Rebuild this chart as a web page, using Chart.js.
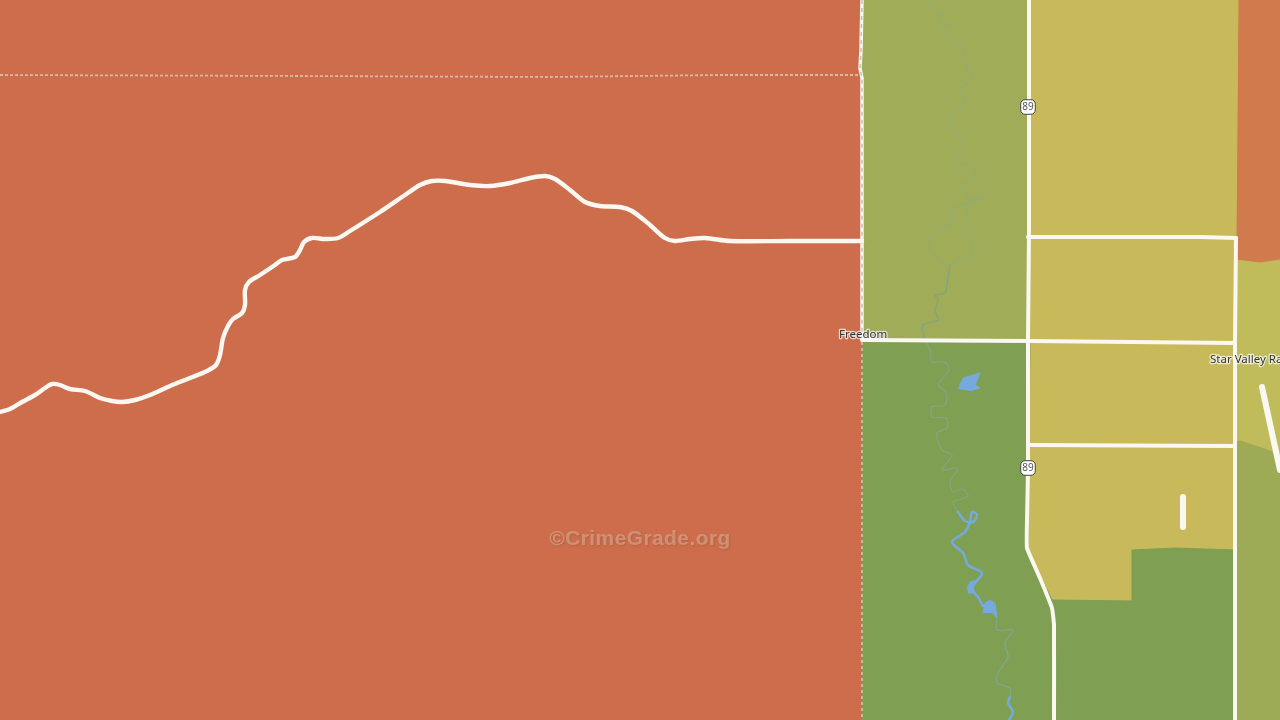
<!DOCTYPE html>
<html><head><meta charset="utf-8">
<style>html,body{margin:0;padding:0;background:#CE6D4C;overflow:hidden}canvas{display:block}</style>
<script src="https://cdn.jsdelivr.net/npm/chart.js@4/dist/chart.umd.min.js"></script>
</head><body><canvas id="c" width="1280" height="720" style="width:1280px;height:720px"></canvas>
<script>
const zoneRed=[[0,0],[1280,0],[1280,720],[0,720]];
const zoneOrange=[[1238,0],[1280,0],[1280,264],[1260,263],[1236,260]];
const zoneOlive=[[862,0],[1030,0],[1030,341],[862,341]];
const zoneYellow=[[1029,0],[1238,0],[1236,240],[1236,550],[1175,548],[1132,550],[1132,601],[1052,600],[1040,575],[1028,548]];
const zoneGreen=[[862,341],[1030,341],[1028,548],[1040,575],[1052,600],[1132,601],[1132,550],[1175,548],[1236,550],[1236,720],[862,720]];
const zoneLime=[[1236,260],[1260,263],[1280,260],[1280,455],[1262,448],[1240,441],[1236,442]];
const zoneOliveEast=[[1236,442],[1240,441],[1262,448],[1280,455],[1280,720],[1236,720]];

const riverNorth=[[932,0],[930,5],[934,12],[941,15],[943,11],[939,18],[942,26],[950,25],[951,32],[947,42],[953,44],[960,43],[965,55],[966,65],[970,72],[972,76],[968,83],[960,89],[965,96],[958,110],[950,115],[948,122],[955,133],[964,143],[962,150],[955,160],[957,165],[972,164],[973,182],[963,182],[962,188],[970,200],[978,197],[983,197],[972,202],[953,208],[952,222],[937,232],[929,247],[937,258],[950,265],[960,258],[970,260],[972,243],[967,233],[972,227],[965,217],[972,202]];
const riverMid=[[950,265],[947,283],[945,293],[935,295],[938,300],[935,310],[938,320],[923,325],[924,337],[930,350],[932,362],[945,362],[949,370],[938,385],[946,392],[945,405],[932,407],[932,417],[946,418],[947,428],[937,433],[942,450],[952,455],[942,470],[958,468],[950,482],[953,492],[962,489],[968,495],[962,499],[953,502],[958,512]];
const riverBlue=[[958,512],[965,521],[973,522],[977,515],[972,512],[970,522],[965,532],[952,542],[963,553],[968,565],[982,573],[975,583],[972,590],[978,597],[983,606]];
const riverSouthThin=[[997,618],[997,630],[1013,630],[1005,643],[1008,657],[998,673],[997,683],[1010,688],[1010,697]];
const riverSouthBlue=[[1010,697],[1008,703],[1013,712],[1009,720]];
const lakeNorth=[[958,389],[963,378],[980,373],[975,385],[980,388],[970,391]];
const lakeMid=[[967,588],[970,582],[975,580],[973,587],[975,593],[968,593]];
const lakeSouth=[[983,613],[985,603],[990,600],[995,603],[997,618],[993,613]];

const mainRoad=[[0,412],[10,409],[22,402],[35,395],[45,388],[52,384],[60,385],[70,389],[85,391],[100,398],[112,401],[122,402],[135,400],[150,395],[170,386],[190,378],[207,371],[216,365],[220,355],[223,338],[228,326],[233,319],[242,313],[245,305],[245,290],[249,282],[260,275],[275,265],[282,260],[295,257],[300,250],[304,242],[312,238],[325,239],[338,238],[350,231],[380,212],[405,195],[420,185],[432,181],[445,181],[470,185],[490,186],[510,183],[530,178],[545,176],[555,179],[570,190],[585,202],[600,206],[620,207],[632,211],[650,225],[665,238],[675,241],[690,239],[705,238],[730,241],[790,241],[862,241]];
const highway89=[[1029,0],[1029,230],[1028,340],[1028,470],[1027,520],[1027,548],[1040,578],[1052,608],[1054,625],[1054,720]];
const roadA=[[1028,237],[1200,237],[1236,238]];
const roadEast=[[1236,238],[1235,340],[1235,445],[1235,720]];
const roadB=[[862,340],[1028,341],[1235,343]];
const roadC=[[1028,445],[1235,446]];
const roadShortA=[[1262,387],[1280,470]];
const roadShortB=[[1183,497],[1183,527]];
const borderWhite=[[862,0],[861,50],[860,68],[862,78],[862,340]];
const borderDashNorth=[[862,0],[861,50],[860,68],[862,78],[862,340]];
const borderDashSouth=[[862,342],[862,720]];
const stateLine=[[0,75],[300,76],[550,77],[720,75],[860,75]];

const shieldPoints=[[1028,107],[1028,468]];
const shieldLabel='89';
const placeNames=['Freedom','Star Valley Ranch'];
const placeAnchors=[[839,334.5],[1210,359.5]];
const watermark='©CrimeGrade.org';
const watermarkAnchor=[640,539];

function zone(pts,color){return {data:pts.map(p=>({x:p[0],y:p[1]})),showLine:true,fill:'shape',backgroundColor:color,borderColor:color,borderWidth:1,pointRadius:0,tension:0};}
function path(pts,color,width,extra){return Object.assign({data:pts.map(p=>({x:p[0],y:p[1]})),showLine:true,fill:false,borderColor:color,borderWidth:width,pointRadius:0,tension:0.3,borderCapStyle:'round',borderJoinStyle:'round'},extra||{});}
const ROAD='#FBF8F1';
const layers=[
 zone(zoneRed,'#CE6D4C'),zone(zoneOrange,'#D07A4E'),zone(zoneOlive,'#A0AC58'),zone(zoneLime,'#C0BC5C'),zone(zoneOliveEast,'#9EAB56'),zone(zoneYellow,'#C8BA5A'),zone(zoneGreen,'#7F9F52'),
 path(riverNorth,'#93AC70',1.4),path(riverMid,'#82A67C',1.4),path(riverBlue,'#76A9DC',2.6),path(riverSouthThin,'#7FA98F',1.2),path(riverSouthBlue,'#76A9DC',2.6),
 zone(lakeNorth,'#76A9DC'),zone(lakeMid,'#76A9DC'),zone(lakeSouth,'#76A9DC'),
 path(stateLine,'#D9B8A8',1.8,{borderDash:[3,2],tension:0,borderCapStyle:'butt'}),
 path(borderDashSouth,'#C9B7A0',2,{borderDash:[3,3],tension:0,borderCapStyle:'butt'}),
 path(borderWhite,ROAD,3.5,{tension:0}),
 path(borderDashNorth,'#C4C0B4',1.5,{borderDash:[4,4],tension:0,borderCapStyle:'butt'}),
 path(mainRoad,ROAD,4.4),
 path(highway89,ROAD,4,{tension:0.1}),path(roadA,ROAD,4,{tension:0}),path(roadEast,ROAD,4,{tension:0}),path(roadB,ROAD,4,{tension:0}),path(roadC,ROAD,4,{tension:0}),
 path(roadShortA,ROAD,6,{tension:0}),path(roadShortB,ROAD,6,{tension:0}),
 {data:shieldPoints.map(p=>({x:p[0],y:p[1]})),showLine:false,pointStyle:'rectRounded',pointRadius:8.5,backgroundColor:'#FFFFFF',borderColor:'#444444',borderWidth:1}
];
const textPlugin={id:'mapText',afterDatasetsDraw(chart){
 const c=chart.ctx,sx=chart.scales.x,sy=chart.scales.y;
 c.save();
 c.textBaseline='middle';
 c.textAlign='center';c.font='10px "Noto Sans"';c.fillStyle='#555555';
 shieldPoints.forEach(p=>c.fillText(shieldLabel,sx.getPixelForValue(p[0]),sy.getPixelForValue(p[1])));
 c.textAlign='left';c.font='11.5px "Noto Sans"';c.lineJoin='round';
 placeNames.forEach((n,i)=>{const x=sx.getPixelForValue(placeAnchors[i][0]),y=sy.getPixelForValue(placeAnchors[i][1]);
  c.strokeStyle='rgba(255,255,255,0.7)';c.lineWidth=2.5;c.strokeText(n,x,y);c.fillStyle='#333333';c.fillText(n,x,y);});
 c.textAlign='center';c.font='bold 21px "Liberation Sans"';c.letterSpacing='0.4px';
 c.shadowColor='rgba(90,60,40,0.55)';c.shadowBlur=2;c.shadowOffsetX=1;c.shadowOffsetY=1;
 c.fillStyle='rgba(235,215,195,0.38)';
 c.fillText(watermark,sx.getPixelForValue(watermarkAnchor[0]),sy.getPixelForValue(watermarkAnchor[1]));
 c.restore();
}};
new Chart(document.getElementById('c'),{type:'scatter',data:{datasets:layers.slice().reverse()},plugins:[textPlugin],
 options:{responsive:false,animation:false,devicePixelRatio:1,layout:{padding:0,autoPadding:false},
  plugins:{legend:{display:false},tooltip:{enabled:false},title:{display:false}},
  scales:{x:{type:'linear',display:false,min:0,max:1280},y:{type:'linear',display:false,min:0,max:720,reverse:true}}}});
</script></body></html>
